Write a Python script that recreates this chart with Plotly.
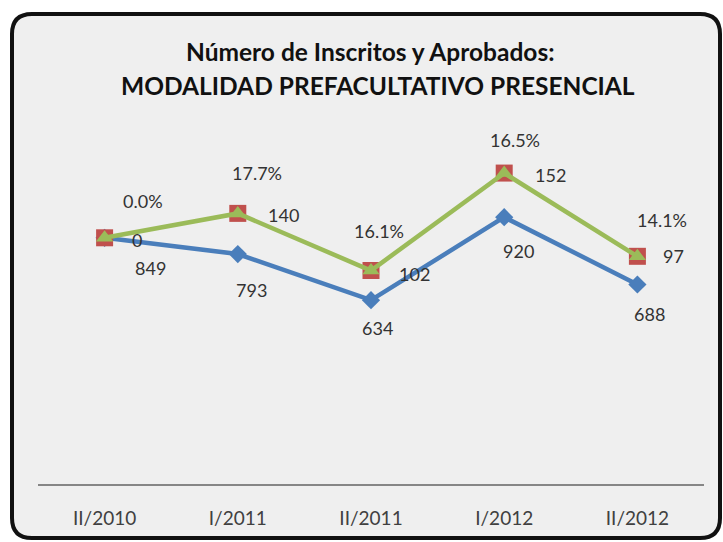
import plotly.graph_objects as go
import numpy as np

# ---- data ----
categories = ["II/2010", "I/2011", "II/2011", "I/2012", "II/2012"]
inscritos = [849, 793, 634, 920, 688]
aprobados = [0, 140, 102, 152, 97]
porcentaje = [0.0, 0.177, 0.161, 0.165, 0.141]
title_line1 = "Número de Inscritos y Aprobados:"
title_line2 = "MODALIDAD PREFACULTATIVO PRESENCIAL"

# stacked line chart (as in the original spreadsheet chart)
s1 = np.array(inscritos, dtype=float)
s2 = s1 + np.array(aprobados, dtype=float)
s3 = s2 + np.array(porcentaje, dtype=float)

W, H = 723, 542
L, R, T, B = 38, 19, 136, 58
pw, ph = W - L - R, H - T - B

BLUE = "#4a7ebb"
GREEN = "#9bbb59"
RED = "#c0504d"
FONT = "Lato"
TXT = "#333333"


def py(p):
    return (H - B - p) / ph


def px(p):
    return (p - L) / pw


fig = go.Figure()
fig.add_trace(go.Scatter(
    x=categories, y=s1, mode="lines+markers",
    line=dict(color=BLUE, width=4.5),
    marker=dict(symbol="diamond", size=14, color=BLUE),
    name="Inscritos", showlegend=False, hoverinfo="skip"))
fig.add_trace(go.Scatter(
    x=categories, y=s3, mode="markers",
    marker=dict(symbol="square", size=17, color=RED),
    name="%", showlegend=False, hoverinfo="skip"))
fig.add_trace(go.Scatter(
    x=categories, y=s2, mode="lines+markers",
    line=dict(color=GREEN, width=4.5),
    marker=dict(symbol="triangle-up", size=15, color=GREEN),
    name="Aprobados", showlegend=False, hoverinfo="skip"))

# data labels (pixel offsets of each label from its point)
blue_dx = [46, 14, 6, 14, 12]
blue_dy = [-30, -36, -28, -34, -30]
val_dx = [32, 46, 43, 46, 36]
val_dy = [-2, -2, -3, -2, 0]
pct_dx = [38, 19, 8, 11, 25]
pct_dy = [37, 40, 40, 33, 36]

ann = []
lab_font = dict(family=FONT, size=18, color=TXT)
for i, c in enumerate(categories):
    ann.append(dict(x=c, y=s1[i], text=str(inscritos[i]), showarrow=False,
                    xshift=blue_dx[i], yshift=blue_dy[i], font=lab_font))
    ann.append(dict(x=c, y=s2[i], text=str(aprobados[i]), showarrow=False,
                    xshift=val_dx[i], yshift=val_dy[i], font=lab_font))
    ann.append(dict(x=c, y=s3[i], text=f"{porcentaje[i]*100:.1f}%", showarrow=False,
                    xshift=pct_dx[i], yshift=pct_dy[i], font=lab_font))

title_font = dict(family=FONT, size=24.5, color="#111111")
ann.append(dict(xref="paper", yref="paper", x=px(370), y=py(51),
                text="<b>" + title_line1 + "</b>", showarrow=False, font=title_font,
                xanchor="center", yanchor="middle"))
ann.append(dict(xref="paper", yref="paper", x=px(378), y=py(86),
                text="<b>" + title_line2 + "</b>", showarrow=False, font=title_font,
                xanchor="center", yanchor="middle"))

# rounded chart frame
x0, x1, y0, y1, r = 12, 720, 14, 538, 20
path = (f"M {px(x0 + r)},{py(y0)} L {px(x1 - r)},{py(y0)} "
        f"Q {px(x1)},{py(y0)} {px(x1)},{py(y0 + r)} "
        f"L {px(x1)},{py(y1 - r)} Q {px(x1)},{py(y1)} {px(x1 - r)},{py(y1)} "
        f"L {px(x0 + r)},{py(y1)} Q {px(x0)},{py(y1)} {px(x0)},{py(y1 - r)} "
        f"L {px(x0)},{py(y0 + r)} Q {px(x0)},{py(y0)} {px(x0 + r)},{py(y0)} Z")
shapes = [dict(type="path", xref="paper", yref="paper", path=path,
               fillcolor="#efefef", line=dict(color="#111111", width=4), layer="below")]

fig.update_layout(
    width=W, height=H,
    margin=dict(l=L, r=R, t=T, b=B, pad=0),
    paper_bgcolor="white", plot_bgcolor="rgba(0,0,0,0)",
    annotations=ann, shapes=shapes,
    xaxis=dict(range=[-0.5, 4.5], showline=True, linecolor="#868686", linewidth=1.5,
               showgrid=False, zeroline=False, ticks="",
               tickfont=dict(family=FONT, size=19, color="#404040"), ticklabelstandoff=16),
    yaxis=dict(range=[0, 1200], visible=False, showgrid=False, zeroline=False),
)

fig.write_html("out.html", config={"displayModeBar": False},
               post_script="document.body.style.margin='0';document.body.style.overflow='hidden';")
